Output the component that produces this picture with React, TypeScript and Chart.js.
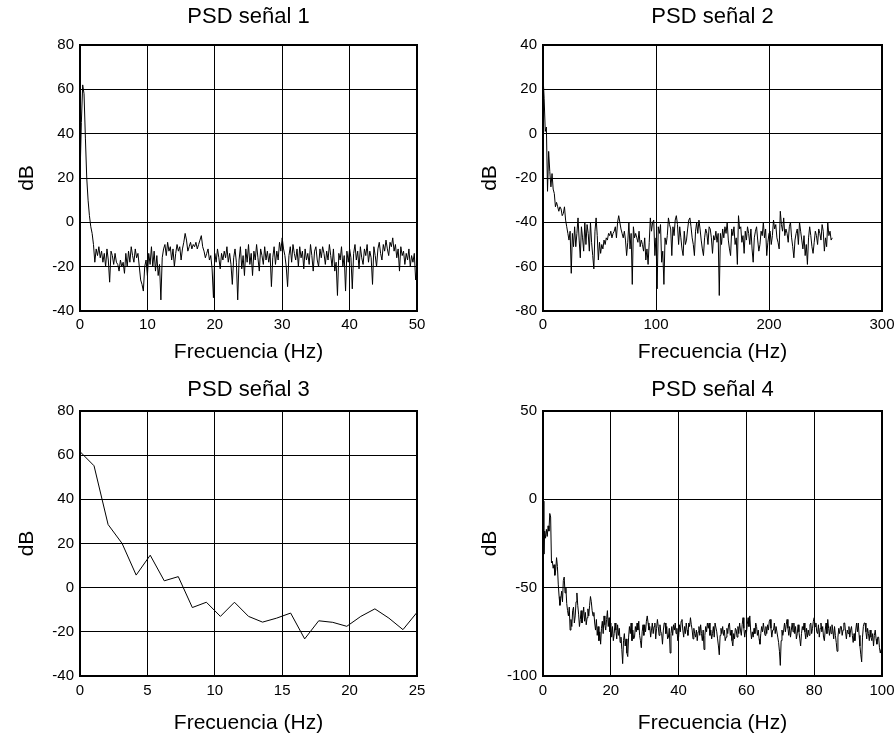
import React, { useEffect, useRef } from 'react';
import { Chart, registerables } from 'chart.js';

Chart.register(...registerables);

const FONT = "'Liberation Sans', Arial, Helvetica, sans-serif";

// ---------- Panel 1: PSD señal 1 (0–50 Hz, step 0.2 Hz) ----------
const psd1Title = 'PSD señal 1';
const psd1Step = 0.2;
const psd1Values = [
  20, 45, 62, 58, 38, 20, 10, 3, -2, -5,
  -10, -18, -12, -15, -11, -16, -13, -18, -14, -20,
  -12, -17, -27, -13, -15, -19, -14, -18, -19, -22,
  -17, -20, -18, -23, -14, -20, -13, -18, -11, -15,
  -18, -12, -16, -14, -20, -26, -28, -31, -20, -17,
  -24, -14, -19, -11, -20, -13, -22, -15, -24, -19,
  -35, -16, -12, -10, -15, -9, -13, -11, -17, -12,
  -20, -14, -10, -13, -11, -17, -12, -9, -5, -8,
  -13, -11, -9, -12, -10, -11, -9, -12, -10, -8,
  -6, -11, -13, -16, -14, -12, -17, -15, -21, -34,
  -14, -18, -12, -16, -21, -14, -17, -13, -16, -11,
  -18, -14, -19, -28, -16, -12, -18, -35, -17, -11,
  -21, -15, -24, -12, -18, -10, -19, -14, -24, -13,
  -17, -10, -16, -22, -12, -15, -19, -11, -17, -13,
  -18, -14, -29, -16, -11, -19, -13, -17, -9, -13,
  -7, -12, -15, -20, -29, -15, -11, -18, -10, -14,
  -17, -12, -20, -11, -16, -13, -21, -12, -17, -14,
  -19, -10, -15, -22, -13, -11, -17, -20, -12, -16,
  -11, -14, -19, -13, -17, -10, -15, -20, -12, -22,
  -18, -33, -14, -17, -11, -20, -15, -31, -13, -18,
  -12, -16, -30, -14, -10, -17, -13, -21, -11, -16,
  -19, -12, -15, -10, -18, -13, -16, -28, -11, -15,
  -20, -12, -9, -14, -17, -10, -13, -8, -12, -15,
  -9, -11, -7, -13, -10, -16, -12, -22, -11, -15,
  -13, -19, -14, -17, -12, -20, -15, -18, -14, -26,
  -20,
];
const psd1XTicks = [0, 50, 10];
const psd1YTicks = [-40, 80, 20];

// ---------- Panel 2: PSD señal 2 (0–256 Hz, step 1 Hz) ----------
const psd2Title = 'PSD señal 2';
const psd2Step = 1;
const psd2Values = [
  26, 16, 1, 3, -26, -8, -17, -24, -18, -25, -27, -33, -31, -33, -35, -33,
  -34, -37, -36, -33, -39, -42, -45, -48, -44, -63, -45, -51, -42, -51, -45, -38,
  -48, -56, -42, -47, -53, -40, -50, -41, -45, -53, -40, -49, -55, -61, -44, -38,
  -46, -57, -49, -54, -50, -52, -48, -50, -47, -48, -45, -46, -44, -47, -45, -44,
  -42, -47, -40, -37, -40, -43, -45, -47, -44, -48, -55, -49, -40, -52, -45, -68,
  -42, -47, -45, -47, -49, -44, -51, -48, -50, -53, -47, -57, -52, -59, -49, -38,
  -44, -40, -39, -55, -47, -70, -42, -45, -41, -58, -53, -68, -47, -50, -46, -38,
  -41, -43, -55, -42, -46, -39, -37, -41, -50, -42, -47, -52, -55, -44, -50, -48,
  -43, -39, -38, -42, -47, -50, -55, -44, -40, -45, -39, -43, -48, -52, -55, -47,
  -43, -45, -50, -42, -43, -47, -54, -46, -48, -44, -49, -45, -73, -45, -50, -43,
  -47, -42, -45, -40, -48, -52, -55, -43, -46, -42, -50, -47, -59, -37, -43, -42,
  -49, -46, -54, -44, -48, -42, -45, -50, -43, -52, -58, -47, -44, -42, -48, -53,
  -50, -44, -46, -40, -47, -43, -55, -49, -45, -44, -50, -46, -39, -43, -41, -47,
  -49, -52, -35, -41, -44, -38, -46, -43, -45, -49, -42, -40, -47, -51, -56, -48,
  -45, -43, -50, -40, -44, -48, -52, -46, -55, -50, -59, -47, -42, -46, -51, -54,
  -49, -44, -46, -50, -43, -45, -48, -41, -44, -53, -47, -51, -40, -46, -44, -48,
  -47,
];
const psd2XTicks = [0, 300, 100];
const psd2YTicks = [-80, 40, 20];

// ---------- Panel 3: PSD señal 3 (0–25 Hz, step 25/24 Hz) ----------
const psd3Title = 'PSD señal 3';
const psd3Step = 25 / 24;
const psd3Values = [
  61.6, 55.2, 28.6, 20, 5.7, 14.7, 3.1, 5, -9, -6.6, -13, -6.6, -13,
  -15.6, -13.8, -11.5, -23.2, -15, -15.7, -17.5, -13, -9.6, -13.8, -19, -11.2,
];
const psd3XTicks = [0, 25, 5];
const psd3YTicks = [-40, 80, 20];

// ---------- Panel 4: PSD señal 4 (0–100 Hz, step 0.25 Hz) ----------
const psd4Title = 'PSD señal 4';
const psd4Step = 0.25;
const psd4Values = [
  -1, -31, -18, -22, -17, -21, -15, -18, -8, -10, -36, -35, -39, -37, -43, -40, -33, -38, -48, -55,
  -60, -56, -52, -58, -46, -44, -53, -50, -59, -63, -66, -61, -74, -68, -72, -63, -61, -70, -66, -58,
  -53, -60, -65, -72, -68, -63, -70, -66, -61, -69, -64, -71, -67, -62, -66, -60, -55, -58, -63, -66,
  -64, -70, -74, -68, -77, -72, -80, -75, -82, -73, -69, -76, -66, -71, -74, -68, -63, -72, -67, -75,
  -70, -78, -72, -80, -76, -70, -74, -79, -71, -77, -73, -81, -78, -85, -93, -80, -76, -83, -79, -87,
  -89, -78, -72, -76, -70, -80, -74, -79, -78, -72, -75, -70, -74, -69, -77, -80, -84, -75, -71, -77,
  -71, -75, -69, -66, -70, -74, -72, -78, -74, -70, -76, -72, -70, -79, -73, -68, -72, -77, -71, -75,
  -76, -82, -74, -70, -70, -76, -72, -79, -78, -73, -87, -76, -72, -77, -71, -74, -70, -76, -73, -80,
  -78, -71, -75, -69, -68, -74, -78, -72, -76, -70, -74, -77, -70, -72, -67, -71, -74, -79, -73, -76,
  -78, -74, -80, -75, -72, -77, -71, -76, -80, -74, -85, -77, -72, -75, -70, -73, -70, -77, -74, -79,
  -76, -72, -78, -70, -70, -75, -79, -83, -88, -77, -73, -76, -72, -77, -74, -80, -78, -73, -76, -71,
  -70, -77, -74, -80, -83, -76, -79, -73, -74, -78, -72, -76, -70, -74, -77, -71, -67, -73, -78, -74,
  -76, -71, -67, -72, -66, -74, -79, -75, -78, -73, -76, -70, -72, -77, -74, -79, -82, -76, -72, -75,
  -70, -74, -77, -72, -76, -71, -74, -69, -68, -73, -78, -74, -74, -70, -76, -72, -72, -78, -81, -86,
  -94, -80, -74, -77, -74, -70, -75, -71, -68, -73, -77, -72, -78, -74, -70, -75, -70, -76, -72, -79,
  -76, -71, -75, -79, -83, -76, -72, -74, -70, -75, -79, -73, -78, -74, -77, -71, -70, -76, -73, -69,
  -67, -72, -70, -75, -76, -71, -78, -73, -70, -75, -72, -78, -80, -74, -70, -76, -68, -73, -77, -72,
  -76, -71, -74, -79, -72, -77, -81, -86, -78, -73, -76, -72, -72, -77, -74, -70, -70, -75, -79, -74,
  -76, -72, -78, -74, -72, -77, -81, -76, -80, -74, -70, -75, -70, -77, -83, -88, -92, -78, -72, -70,
  -70, -75, -79, -73, -76, -80, -74, -78, -80, -76, -83, -77, -74, -79, -82, -78, -78, -84, -87, -85,
  -89,
];
const psd4XTicks = [0, 100, 20];
const psd4YTicks = [-100, 50, 50];

const xLabel = 'Frecuencia (Hz)';
const yLabel = 'dB';

const framePlugin = {
  id: 'frame',
  afterDraw(chart: any) {
    const { ctx, chartArea: a } = chart;
    ctx.save();
    ctx.strokeStyle = '#000';
    ctx.lineWidth = 2;
    ctx.strokeRect(a.left, a.top, a.right - a.left, a.bottom - a.top);
    ctx.restore();
  },
};

type PanelProps = {
  left: number;
  top: number;
  width: number;
  height: number;
  yAxisWidth: number;
  xAxisHeight: number;
  padRight: number;
  titleBox: [number, number];
  yTitlePad: number;
  xTitlePad: number;
  xTickPad: number;
  title: string;
  step: number;
  values: number[];
  xTicks: number[];
  yTicks: number[];
};

function Panel(p: PanelProps) {
  const ref = useRef<HTMLCanvasElement | null>(null);
  useEffect(() => {
    if (!ref.current) return;
    const data = p.values.map((v, i) => ({ x: i * p.step, y: v }));
    const chart = new Chart(ref.current, {
      type: 'line',
      data: {
        datasets: [
          {
            data,
            borderColor: '#000',
            borderWidth: 1,
            pointRadius: 0,
            tension: 0,
            fill: false,
          },
        ],
      },
      options: {
        animation: false,
        responsive: false,
        devicePixelRatio: 1,
        layout: { padding: { left: 0, top: 0, bottom: 0, right: p.padRight } },
        plugins: {
          legend: { display: false },
          tooltip: { enabled: false },
          title: {
            display: true,
            text: p.title,
            color: '#000',
            fullSize: false,
            font: { family: FONT, size: 22, weight: 'normal', lineHeight: 1.2 },
            padding: { top: p.titleBox[0], bottom: p.titleBox[1] },
          },
        },
        scales: {
          x: {
            type: 'linear',
            min: p.xTicks[0],
            max: p.xTicks[1],
            ticks: {
              stepSize: p.xTicks[2],
              color: '#000',
              padding: p.xTickPad,
              maxRotation: 0,
              autoSkip: false,
              font: { family: FONT, size: 15 },
            },
            grid: { color: '#000', lineWidth: 1, drawTicks: false },
            border: { display: false },
            title: {
              display: true,
              text: xLabel,
              color: '#000',
              font: { family: FONT, size: 21, lineHeight: 1.2 },
              padding: { top: 0, bottom: p.xTitlePad },
            },
            afterFit: (s: any) => {
              s.height = p.xAxisHeight;
              s.paddingLeft = 0;
              s.paddingRight = 0;
              s.paddingTop = 0;
              s.paddingBottom = 0;
            },
          },
          y: {
            type: 'linear',
            min: p.yTicks[0],
            max: p.yTicks[1],
            ticks: {
              stepSize: p.yTicks[2],
              color: '#000',
              padding: 6,
              font: { family: FONT, size: 15 },
            },
            grid: { color: '#000', lineWidth: 1, drawTicks: false },
            border: { display: false },
            title: {
              display: true,
              text: yLabel,
              color: '#000',
              font: { family: FONT, size: 21, lineHeight: 1.2 },
              padding: { top: p.yTitlePad, bottom: 0 },
            },
            afterFit: (s: any) => {
              s.width = p.yAxisWidth;
              s.paddingLeft = 0;
              s.paddingRight = 0;
              s.paddingTop = 0;
              s.paddingBottom = 0;
            },
          },
        },
      },
      plugins: [framePlugin],
    } as any);
    return () => chart.destroy();
  }, []);
  return (
    <div style={{ position: 'absolute', left: p.left, top: p.top, width: p.width, height: p.height }}>
      <canvas ref={ref} width={p.width} height={p.height} style={{ width: p.width, height: p.height, display: 'block' }} />
    </div>
  );
}

export default function App() {
  return (
    <div
      style={{
        position: 'absolute',
        left: 0,
        top: 0,
        width: 895,
        height: 740,
        background: '#fff',
        overflow: 'hidden',
      }}
    >
      <Panel
        left={0} top={0} width={447} height={370}
        yAxisWidth={80} xAxisHeight={59} padRight={30}
        titleBox={[3.8, 14.8]} yTitlePad={14.4} xTitlePad={5.4} xTickPad={5}
        title={psd1Title} step={psd1Step} values={psd1Values}
        xTicks={psd1XTicks} yTicks={psd1YTicks}
      />
      <Panel
        left={447} top={0} width={448} height={370}
        yAxisWidth={96} xAxisHeight={59} padRight={13}
        titleBox={[3.8, 14.8]} yTitlePad={30.4} xTitlePad={5.4} xTickPad={5}
        title={psd2Title} step={psd2Step} values={psd2Values}
        xTicks={psd2XTicks} yTicks={psd2YTicks}
      />
      <Panel
        left={0} top={370} width={447} height={370}
        yAxisWidth={80} xAxisHeight={64} padRight={30}
        titleBox={[6.8, 7.8]} yTitlePad={14.4} xTitlePad={4.4} xTickPad={6}
        title={psd3Title} step={psd3Step} values={psd3Values}
        xTicks={psd3XTicks} yTicks={psd3YTicks}
      />
      <Panel
        left={447} top={370} width={448} height={370}
        yAxisWidth={96} xAxisHeight={64} padRight={13}
        titleBox={[6.8, 7.8]} yTitlePad={30.4} xTitlePad={4.4} xTickPad={6}
        title={psd4Title} step={psd4Step} values={psd4Values}
        xTicks={psd4XTicks} yTicks={psd4YTicks}
      />
    </div>
  );
}
